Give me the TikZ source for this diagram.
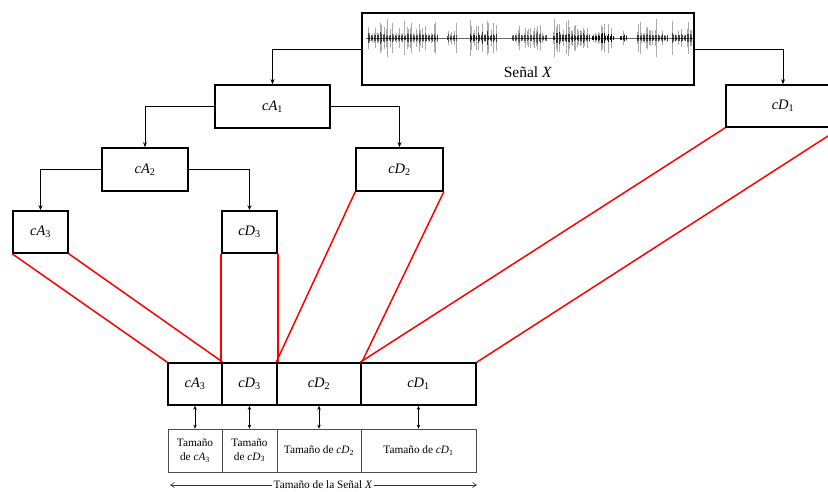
\documentclass[tikz,border=0pt]{standalone}
\usepackage{fontspec}
\setmainfont{Liberation Serif}
\usetikzlibrary{arrows.meta}
% wavelet coefficient label: italic name, upright subscript
\newcommand\coef[2]{{\itshape #1}\textsubscript{#2}}

\begin{document}
\begin{tikzpicture}[x=1pt,y=-1pt,
  blk/.style={draw, line width=1.6pt, rectangle, inner sep=0pt,
              font=\fontsize{14.5}{16}\selectfont},
  szbox/.style={draw=black!70, line width=0.7pt, rectangle, inner sep=0pt,
                align=center, font=\fontsize{11.3}{14}\selectfont},
  flow/.style={line width=0.9pt, -{Stealth[length=5pt,width=4pt]}},
  band/.style={red, line width=1.5pt},
  dbl/.style={line width=0.9pt,
              {Stealth[length=4pt,width=3.5pt]}-{Stealth[length=4pt,width=3.5pt]}},
  span/.style={line width=0.6pt, black!80, -{Straight Barb[length=4pt,width=5pt]}},
]
\useasboundingbox (0,0) rectangle (828,491);

% ---- input signal ----
\node[draw, line width=1.6pt, minimum width=332pt, minimum height=72pt] (sig) at (528,49) {};
\node[font=\fontsize{15.5}{17}\selectfont] (siglbl) at (528,72) {Señal \textit{X}};
\draw[black!60, line width=0.6pt] (366,38) -- (693,38);
\pgfmathsetseed{11}
% speech bursts: start / end / peak half-height / core darkness
\foreach \a/\b/\h/\d in {368/438/21/0.6, 447/457/16/0.5, 470/476/22/0.8, 478/497/18/0.7,
                         512/547/17/0.5, 553/590/19/0.7, 592/613/16/0.9, 620/627/7/0.8,
                         637/667/19/0.6, 672/693/18/0.6}{
  \pgfmathtruncatemacro\n{(\b-\a)/1.5}
  \foreach \k in {0,...,\n}{
    \pgfmathsetmacro\xx{\a+1.5*\k}
    \pgfmathsetmacro\hh{\h*(0.15+0.85*rnd^2)}
    \draw[black, opacity=0.33, line width=1pt] (\xx,{38-\hh}) -- (\xx,{38+\hh});
    \pgfmathsetmacro\cc{2+0.3*\hh*rnd}
    \draw[black, opacity=\d, line width=1pt] (\xx,{38-\cc}) -- (\xx,{38+\cc});
  }
}

% ---- decomposition tree ----
\node[blk, minimum width=115pt, minimum height=43pt] (cA1) at (272.5,106.5) {\coef{cA}{1}};
\node[blk, minimum width=114pt, minimum height=42pt] (cD1) at (783,106) {\coef{cD}{1}};
\node[blk, minimum width=86pt, minimum height=43pt] (cA2) at (145,169.5) {\coef{cA}{2}};
\node[blk, minimum width=87pt, minimum height=43pt] (cD2) at (399.5,169.5) {\coef{cD}{2}};
\node[blk, minimum width=55pt, minimum height=42pt] (cA3) at (40.5,232) {\coef{cA}{3}};
\node[blk, minimum width=55pt, minimum height=42pt] (cD3) at (249.5,232) {\coef{cD}{3}};

\draw[flow] (sig.west) -| (cA1.north);
\draw[flow] (sig.east) -| (cD1.north);
\draw[flow] (cA1.west) -| (cA2.north);
\draw[flow] (cA1.east) -| (cD2.north);
\draw[flow] (cA2.west) -| (cA3.north);
\draw[flow] (cA2.east) -| (cD3.north);

% ---- concatenated coefficient vector ----
\node[blk, minimum width=54pt, minimum height=42pt] (bA3) at (195,384) {\coef{cA}{3}};
\node[blk, minimum width=55pt, minimum height=42pt] (bD3) at (249.5,384) {\coef{cD}{3}};
\node[blk, minimum width=84pt, minimum height=42pt] (bD2) at (319,384) {\coef{cD}{2}};
\node[blk, minimum width=115pt, minimum height=42pt] (bD1) at (418.5,384) {\coef{cD}{1}};

\draw[band] (cA3.south west) -- (bA3.north west);
\draw[band] (cA3.south east) -- (bA3.north east);
\draw[band] (cD3.south west) -- (bD3.north west);
\draw[band] (cD3.south east) -- (bD3.north east);
\draw[band] (cD2.south west) -- (bD2.north west);
\draw[band] (cD2.south east) -- (bD2.north east);
\draw[band] (cD1.south west) -- (bD1.north west);
\draw[band] (cD1.south east) -- (bD1.north east);

% ---- sizes ----
\node[szbox, minimum width=54pt, minimum height=43pt] (sA3) at (195,450.5)
  {Tamaño\\de \coef{cA}{3}};
\node[szbox, minimum width=55pt, minimum height=43pt] (sD3) at (249.5,450.5)
  {\raisebox{2pt}{\begin{tabular}{@{}c@{}}Tamaño\\de \coef{cD}{3}\end{tabular}}};
\node[szbox, minimum width=84pt, minimum height=43pt] (sD2) at (319,450.5)
  {Tamaño de \coef{cD}{2}};
\node[szbox, minimum width=115pt, minimum height=43pt] (sD1) at (418.5,450.5)
  {Tamaño de \coef{cD}{1}};

\draw[dbl] (bA3.south) -- (sA3.north);
\draw[dbl] (bD3.south) -- (sD3.north);
\draw[dbl] (bD2.south) -- (sD2.north);
\draw[dbl] (bD1.south) -- (sD1.north);

% ---- total length ----
\coordinate (totL) at (170,485);
\coordinate (totR) at (477,485);
\node[fill=white, inner sep=1pt, font=\fontsize{11.3}{13}\selectfont] (tot) at (323,485)
  {Tamaño de la Señal \textit{X}};
\draw[span] (tot.west) -- (totL);
\draw[span] (tot.east) -- (totR);
\end{tikzpicture}
\end{document}
